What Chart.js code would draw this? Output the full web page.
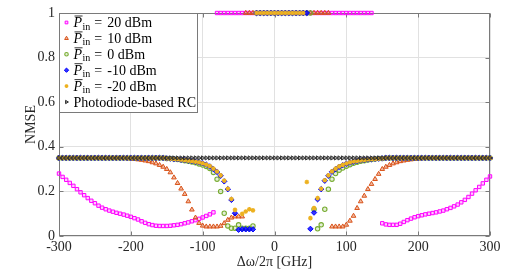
<!DOCTYPE html>
<html>
<head>
<meta charset="utf-8">
<script src="https://cdn.jsdelivr.net/npm/chart.js@4.4.1/dist/chart.umd.min.js"></script>
<style>
    html, body { margin: 0; padding: 0; background: #fff; }
    #wrap { width: 530px; height: 276px; }
</style>
</head>
<body>
<div id="wrap"><canvas id="nmse-chart" width="530" height="276"></canvas></div>
<script>
// frequency detuning grid [GHz]
const freq = [
    -300, -295, -290, -285, -280, -275, -270, -265, -260, -255,
    -250, -245, -240, -235, -230, -225, -220, -215, -210, -205,
    -200, -195, -190, -185, -180, -175, -170, -165, -160, -155,
    -150, -145, -140, -135, -130, -125, -120, -115, -110, -105,
    -100, -95, -90, -85, -80, -75, -70, -65, -60, -55,
    -50, -45, -40, -35, -30, -25, -20, -15, -10, -5,
    0, 5, 10, 15, 20, 25, 30, 35, 40, 45,
    50, 55, 60, 65, 70, 75, 80, 85, 90, 95,
    100, 105, 110, 115, 120, 125, 130, 135, 140, 145,
    150, 155, 160, 165, 170, 175, 180, 185, 190, 195,
    200, 205, 210, 215, 220, 225, 230, 235, 240, 245,
    250, 255, 260, 265, 270, 275, 280, 285, 290, 295,
    300
];

// NMSE per input power
const nmse_20dbm = [
    0.28, 0.265, 0.252, 0.238, 0.225, 0.21, 0.196, 0.183, 0.17, 0.158,
    0.147, 0.136, 0.127, 0.12, 0.114, 0.109, 0.104, 0.1, 0.096, 0.091,
    0.086, 0.08, 0.074, 0.066, 0.059, 0.053, 0.049, 0.046, 0.045, 0.045,
    0.045, 0.046, 0.048, 0.05, 0.053, 0.057, 0.061, 0.066, 0.071, 0.077,
    0.083, 0.09, 0.097, 0.106, 1, 1, 1, 1, 1, 1,
    1, 1, 1, 1, 1, 1, 1, 1, 1, 1,
    1, 1, 1, 1, 1, 1, 1, 1, 1, 1,
    1, 1, 1, 1, 1, 1, 1, 1, 1, 1,
    1, 1, 1, 1, 1, 1, 1, 1, null, null,
    0.057, 0.052, 0.05, 0.05, 0.05, 0.055, 0.063, 0.071, 0.078, 0.084,
    0.089, 0.093, 0.097, 0.1, 0.103, 0.106, 0.11, 0.114, 0.12, 0.126,
    0.133, 0.141, 0.151, 0.162, 0.175, 0.19, 0.205, 0.22, 0.236, 0.252,
    0.267
];
const nmse_10dbm = [
    0.35, 0.35, 0.35, 0.35, 0.35, 0.35, 0.35, 0.35, 0.35, 0.35,
    0.35, 0.35, 0.35, 0.35, 0.35, 0.35, 0.35, 0.35, 0.349, 0.348,
    0.347, 0.345, 0.343, 0.341, 0.338, 0.335, 0.33, 0.325, 0.318, 0.31,
    0.3, 0.285, 0.262, 0.237, 0.212, 0.188, 0.155, 0.118, 0.082, 0.058,
    0.046, 0.042, 0.042, 0.042, 0.042, 0.045, 0.057, 0.072, 0.082, 0.087,
    0.087, 0.087, 1, 1, 1, 1, 1, 1, 1, 1,
    1, 1, 1, 1, 1, 1, 1, 1, 1, 1,
    1, 1, 1, 1, 1, 1, 0.042, 0.042, 0.042, 0.042,
    0.05, 0.068, 0.09, 0.125, 0.155, 0.18, 0.21, 0.233, 0.255, 0.278,
    0.3, 0.31, 0.318, 0.325, 0.33, 0.335, 0.338, 0.341, 0.343, 0.345,
    0.347, 0.348, 0.349, 0.35, 0.35, 0.35, 0.35, 0.35, 0.35, 0.35,
    0.35, 0.35, 0.35, 0.35, 0.35, 0.35, 0.35, 0.35, 0.35, 0.35,
    0.35
];
const nmse_0dbm = [
    0.35, 0.35, 0.35, 0.35, 0.35, 0.35, 0.35, 0.35, 0.35, 0.35,
    0.35, 0.35, 0.35, 0.35, 0.35, 0.35, 0.35, 0.35, 0.35, 0.35,
    0.35, 0.35, 0.35, 0.35, 0.35, 0.35, 0.35, 0.35, 0.35, 0.35,
    0.348, 0.347, 0.345, 0.343, 0.341, 0.338, 0.335, 0.332, 0.328, 0.323,
    0.318, 0.312, 0.303, 0.285, 0.255, 0.2, 0.102, 0.045, 0.035, 0.035,
    0.05, 0.035, 0.035, 0.035, 0.045, 1, 1, 1, 1, 1,
    1, 1, 1, 1, 1, 1, 1, 1, 1, 1,
    1, 0.12, 0.032, 0.05, 0.12, 0.21, 0.255, 0.28, 0.295, 0.305,
    0.313, 0.32, 0.326, 0.331, 0.335, 0.338, 0.341, 0.343, 0.345, 0.347,
    0.348, 0.35, 0.35, 0.35, 0.35, 0.35, 0.35, 0.35, 0.35, 0.35,
    0.35, 0.35, 0.35, 0.35, 0.35, 0.35, 0.35, 0.35, 0.35, 0.35,
    0.35, 0.35, 0.35, 0.35, 0.35, 0.35, 0.35, 0.35, 0.35, 0.35,
    0.35
];
const nmse_m10dbm = [
    0.35, 0.35, 0.35, 0.35, 0.35, 0.35, 0.35, 0.35, 0.35, 0.35,
    0.35, 0.35, 0.35, 0.35, 0.35, 0.35, 0.35, 0.35, 0.35, 0.35,
    0.35, 0.35, 0.35, 0.35, 0.35, 0.35, 0.35, 0.35, 0.35, 0.35,
    0.348, 0.347, 0.345, 0.344, 0.342, 0.34, 0.338, 0.336, 0.333, 0.33,
    0.326, 0.32, 0.312, 0.3, 0.287, 0.27, 0.245, 0.21, 0.162, 0.102,
    0.028, 0.03, 0.03, 0.03, 0.03, 1, 1, 1, 1, 1,
    1, 1, 1, 1, 1, 1, 1, 1, 1, 1,
    0.032, 0.105, 0.165, 0.21, 0.248, 0.27, 0.288, 0.3, 0.31, 0.318,
    0.324, 0.329, 0.333, 0.336, 0.339, 0.341, 0.343, 0.345, 0.346, 0.347,
    0.348, 0.35, 0.35, 0.35, 0.35, 0.35, 0.35, 0.35, 0.35, 0.35,
    0.35, 0.35, 0.35, 0.35, 0.35, 0.35, 0.35, 0.35, 0.35, 0.35,
    0.35, 0.35, 0.35, 0.35, 0.35, 0.35, 0.35, 0.35, 0.35, 0.35,
    0.35
];
const nmse_m20dbm = [
    0.35, 0.35, 0.35, 0.35, 0.35, 0.35, 0.35, 0.35, 0.35, 0.35,
    0.35, 0.35, 0.35, 0.35, 0.35, 0.35, 0.35, 0.35, 0.35, 0.35,
    0.35, 0.35, 0.35, 0.35, 0.35, 0.35, 0.35, 0.35, 0.35, 0.35,
    0.348, 0.347, 0.345, 0.344, 0.342, 0.34, 0.338, 0.336, 0.333, 0.33,
    0.326, 0.32, 0.313, 0.302, 0.289, 0.272, 0.248, 0.212, 0.166, 0.117,
    null, 0.099, 0.11, 0.12, 0.115, 1, 1, 1, 1, 1,
    1, 1, 1, 1, 1, 1, 1, 1, 1, 0.242,
    0.08, 0.125, 0.17, 0.212, 0.25, 0.272, 0.29, 0.302, 0.312, 0.319,
    0.325, 0.33, 0.334, 0.337, 0.339, 0.341, 0.343, 0.345, 0.346, 0.347,
    0.348, 0.35, 0.35, 0.35, 0.35, 0.35, 0.35, 0.35, 0.35, 0.35,
    0.35, 0.35, 0.35, 0.35, 0.35, 0.35, 0.35, 0.35, 0.35, 0.35,
    0.35, 0.35, 0.35, 0.35, 0.35, 0.35, 0.35, 0.35, 0.35, 0.35,
    0.35
];
const nmse_photodiode = [
    0.35, 0.35, 0.35, 0.35, 0.35, 0.35, 0.35, 0.35, 0.35, 0.35,
    0.35, 0.35, 0.35, 0.35, 0.35, 0.35, 0.35, 0.35, 0.35, 0.35,
    0.35, 0.35, 0.35, 0.35, 0.35, 0.35, 0.35, 0.35, 0.35, 0.35,
    0.35, 0.35, 0.35, 0.35, 0.35, 0.35, 0.35, 0.35, 0.35, 0.35,
    0.35, 0.35, 0.35, 0.35, 0.35, 0.35, 0.35, 0.35, 0.35, 0.35,
    0.35, 0.35, 0.35, 0.35, 0.35, 0.35, 0.35, 0.35, 0.35, 0.35,
    0.35, 0.35, 0.35, 0.35, 0.35, 0.35, 0.35, 0.35, 0.35, 0.35,
    0.35, 0.35, 0.35, 0.35, 0.35, 0.35, 0.35, 0.35, 0.35, 0.35,
    0.35, 0.35, 0.35, 0.35, 0.35, 0.35, 0.35, 0.35, 0.35, 0.35,
    0.35, 0.35, 0.35, 0.35, 0.35, 0.35, 0.35, 0.35, 0.35, 0.35,
    0.35, 0.35, 0.35, 0.35, 0.35, 0.35, 0.35, 0.35, 0.35, 0.35,
    0.35, 0.35, 0.35, 0.35, 0.35, 0.35, 0.35, 0.35, 0.35, 0.35,
    0.35
];

// legend / axis text
const pin_levels = ["20", "10", "0", "-10", "-20"];
const photodiode_label = "Photodiode-based RC";
const x_ticks = [-300, -200, -100, 0, 100, 200, 300];
const y_ticks = [0, 0.2, 0.4, 0.6, 0.8, 1];

const serif = "'Liberation Serif', 'Times New Roman', serif";
const axis_color = "#262626";
const frame_color = "#7a7a7a";

function toPoints(values) {
    const pts = [];
    for (let i = 0; i < freq.length; i++) {
        if (values[i] !== null) pts.push({ x: freq[i], y: values[i] });
    }
    return pts;
}

const datasets = [
    { label: pin_levels[0], data: toPoints(nmse_20dbm), pointStyle: "rect", pointRadius: 2.4,
      borderColor: "#ff00ff", backgroundColor: "rgba(255,0,255,0.2)", borderWidth: 1, order: 6 },
    { label: pin_levels[1], data: toPoints(nmse_10dbm), pointStyle: "triangle", pointRadius: 2.7,
      borderColor: "#d95319", backgroundColor: "rgba(217,83,25,0.4)", borderWidth: 1, order: 5 },
    { label: pin_levels[2], data: toPoints(nmse_0dbm), pointStyle: "circle", pointRadius: 2.2,
      borderColor: "#77ac30", backgroundColor: "rgba(119,172,48,0.2)", borderWidth: 1.1, order: 4 },
    { label: pin_levels[3], data: toPoints(nmse_m10dbm), pointStyle: "rectRot", pointRadius: 2.7,
      borderColor: "#0000ff", backgroundColor: "rgba(0,0,255,0.8)", borderWidth: 1, order: 3 },
    { label: pin_levels[4], data: toPoints(nmse_m20dbm), pointStyle: "star", pointRadius: 2.3,
      borderColor: "#edb120", backgroundColor: "#edb120", borderWidth: 1.3, order: 2 },
    { label: photodiode_label, data: toPoints(nmse_photodiode), pointStyle: "triangle", pointRotation: 90,
      pointRadius: 2.4, borderColor: "#333333", backgroundColor: "rgba(51,51,51,0.45)", borderWidth: 1, order: 1 }
];
datasets.forEach(ds => { ds.clip = false; ds.showLine = false; ds.pointHoverRadius = ds.pointRadius; });

// box + inward ticks like the original figure
const frame_plugin = {
    id: "frame",
    beforeDatasetsDraw(chart) {
        const { ctx, chartArea: a, scales } = chart;
        const l = Math.round(a.left) + 0.5, r = Math.round(a.right) - 0.5;
        const t = Math.round(a.top) + 0.5, b = Math.round(a.bottom) - 0.5;
        ctx.save();
        ctx.strokeStyle = frame_color;
        ctx.lineWidth = 1;
        ctx.strokeRect(l, t, r - l, b - t);
        ctx.beginPath();
        x_ticks.forEach(v => {
            const px = Math.round(scales.x.getPixelForValue(v)) + 0.5;
            ctx.moveTo(px, b); ctx.lineTo(px, b - 4);
            ctx.moveTo(px, t); ctx.lineTo(px, t + 4);
        });
        y_ticks.forEach(v => {
            const py = Math.round(scales.y.getPixelForValue(v)) + 0.5;
            ctx.moveTo(l, py); ctx.lineTo(l + 4, py);
            ctx.moveTo(r, py); ctx.lineTo(r - 4, py);
        });
        ctx.stroke();
        ctx.restore();
    },
    afterDraw(chart) {
        drawLegend(chart);
    }
};

function drawLegend(chart) {
    const ctx = chart.ctx;
    const a = chart.chartArea;
    const x0 = Math.round(a.left) + 0.5, y0 = Math.round(a.top) + 0.5;
    const w = 138, h = 99;
    ctx.save();
    ctx.fillStyle = "#fff";
    ctx.fillRect(x0, y0, w, h);
    ctx.strokeStyle = frame_color;
    ctx.lineWidth = 1;
    ctx.strokeRect(x0, y0, w, h);

    chart.data.datasets.forEach((ds, i) => {
        const cy = y0 + 9 + i * 15.9;
        const base = cy + 4.5;
        ctx.fillStyle = ds.backgroundColor;
        ctx.strokeStyle = ds.borderColor;
        ctx.lineWidth = ds.borderWidth;
        Chart.helpers.drawPoint(ctx, {
            pointStyle: ds.pointStyle, rotation: ds.pointRotation || 0,
            radius: ds.pointRadius * 0.8, borderWidth: ds.borderWidth
        }, x0 + 7, cy);

        let tx = x0 + 14;
        ctx.fillStyle = "#000";
        ctx.textBaseline = "alphabetic";
        ctx.textAlign = "left";
        if (i === chart.data.datasets.length - 1) {
            ctx.font = "14px " + serif;
            ctx.fillText(ds.label, tx, base);
            return;
        }
        // \overline{P}_{in} = xx dBm
        ctx.font = "italic 14px " + serif;
        ctx.fillText("P", tx, base);
        const wp = ctx.measureText("P").width;
        ctx.strokeStyle = "#000";
        ctx.lineWidth = 0.8;
        ctx.beginPath();
        ctx.moveTo(tx + 1, base - 11);
        ctx.lineTo(tx + wp + 0.5, base - 11);
        ctx.stroke();
        ctx.font = "10px " + serif;
        ctx.fillText("in", tx + wp + 0.5, base + 2.5);
        const wi = ctx.measureText("in").width;
        ctx.font = "14px " + serif;
        const eq_x = tx + wp + wi + 4.5;
        ctx.fillText("=", eq_x, base);
        ctx.fillText(ds.label + " dBm", eq_x + 13, base);
    });
    ctx.restore();
}

const nmse_chart = document.getElementById("nmse-chart");
new Chart(nmse_chart, {
    type: "scatter",
    data: { datasets: datasets },
    options: {
        responsive: false,
        animation: false,
        devicePixelRatio: 1,
        layout: { padding: { left: 0, right: 40, top: 13, bottom: 0 } },
        plugins: { legend: { display: false }, tooltip: { enabled: false } },
        scales: {
            x: {
                type: "linear", min: -300, max: 300,
                afterBuildTicks: (s) => { s.ticks = x_ticks.map(v => ({ value: v })); },
                ticks: { color: axis_color, font: { family: serif, size: 14 }, padding: 3, maxRotation: 0,
                         callback: (v) => String(v) },
                grid: { color: "#e1e1e1", drawTicks: false },
                border: { display: false },
                title: { display: true, text: "Δω/2π [GHz]", color: axis_color,
                         font: { family: serif, size: 14 }, padding: { top: 0, bottom: 5 } },
                afterFit: (s) => { s.height = 40; }
            },
            y: {
                min: 0, max: 1,
                afterBuildTicks: (s) => { s.ticks = y_ticks.map(v => ({ value: v })); },
                ticks: { color: axis_color, font: { family: serif, size: 14 }, padding: 4,
                         callback: (v) => String(Math.round(v * 10) / 10) },
                grid: { color: "#e1e1e1", drawTicks: false },
                border: { display: false },
                title: { display: true, text: "NMSE", color: axis_color,
                         font: { family: serif, size: 14 }, padding: { top: 23, bottom: 0 } },
                afterFit: (s) => { s.width = 59; }
            }
        }
    },
    plugins: [frame_plugin]
});
</script>
</body>
</html>
